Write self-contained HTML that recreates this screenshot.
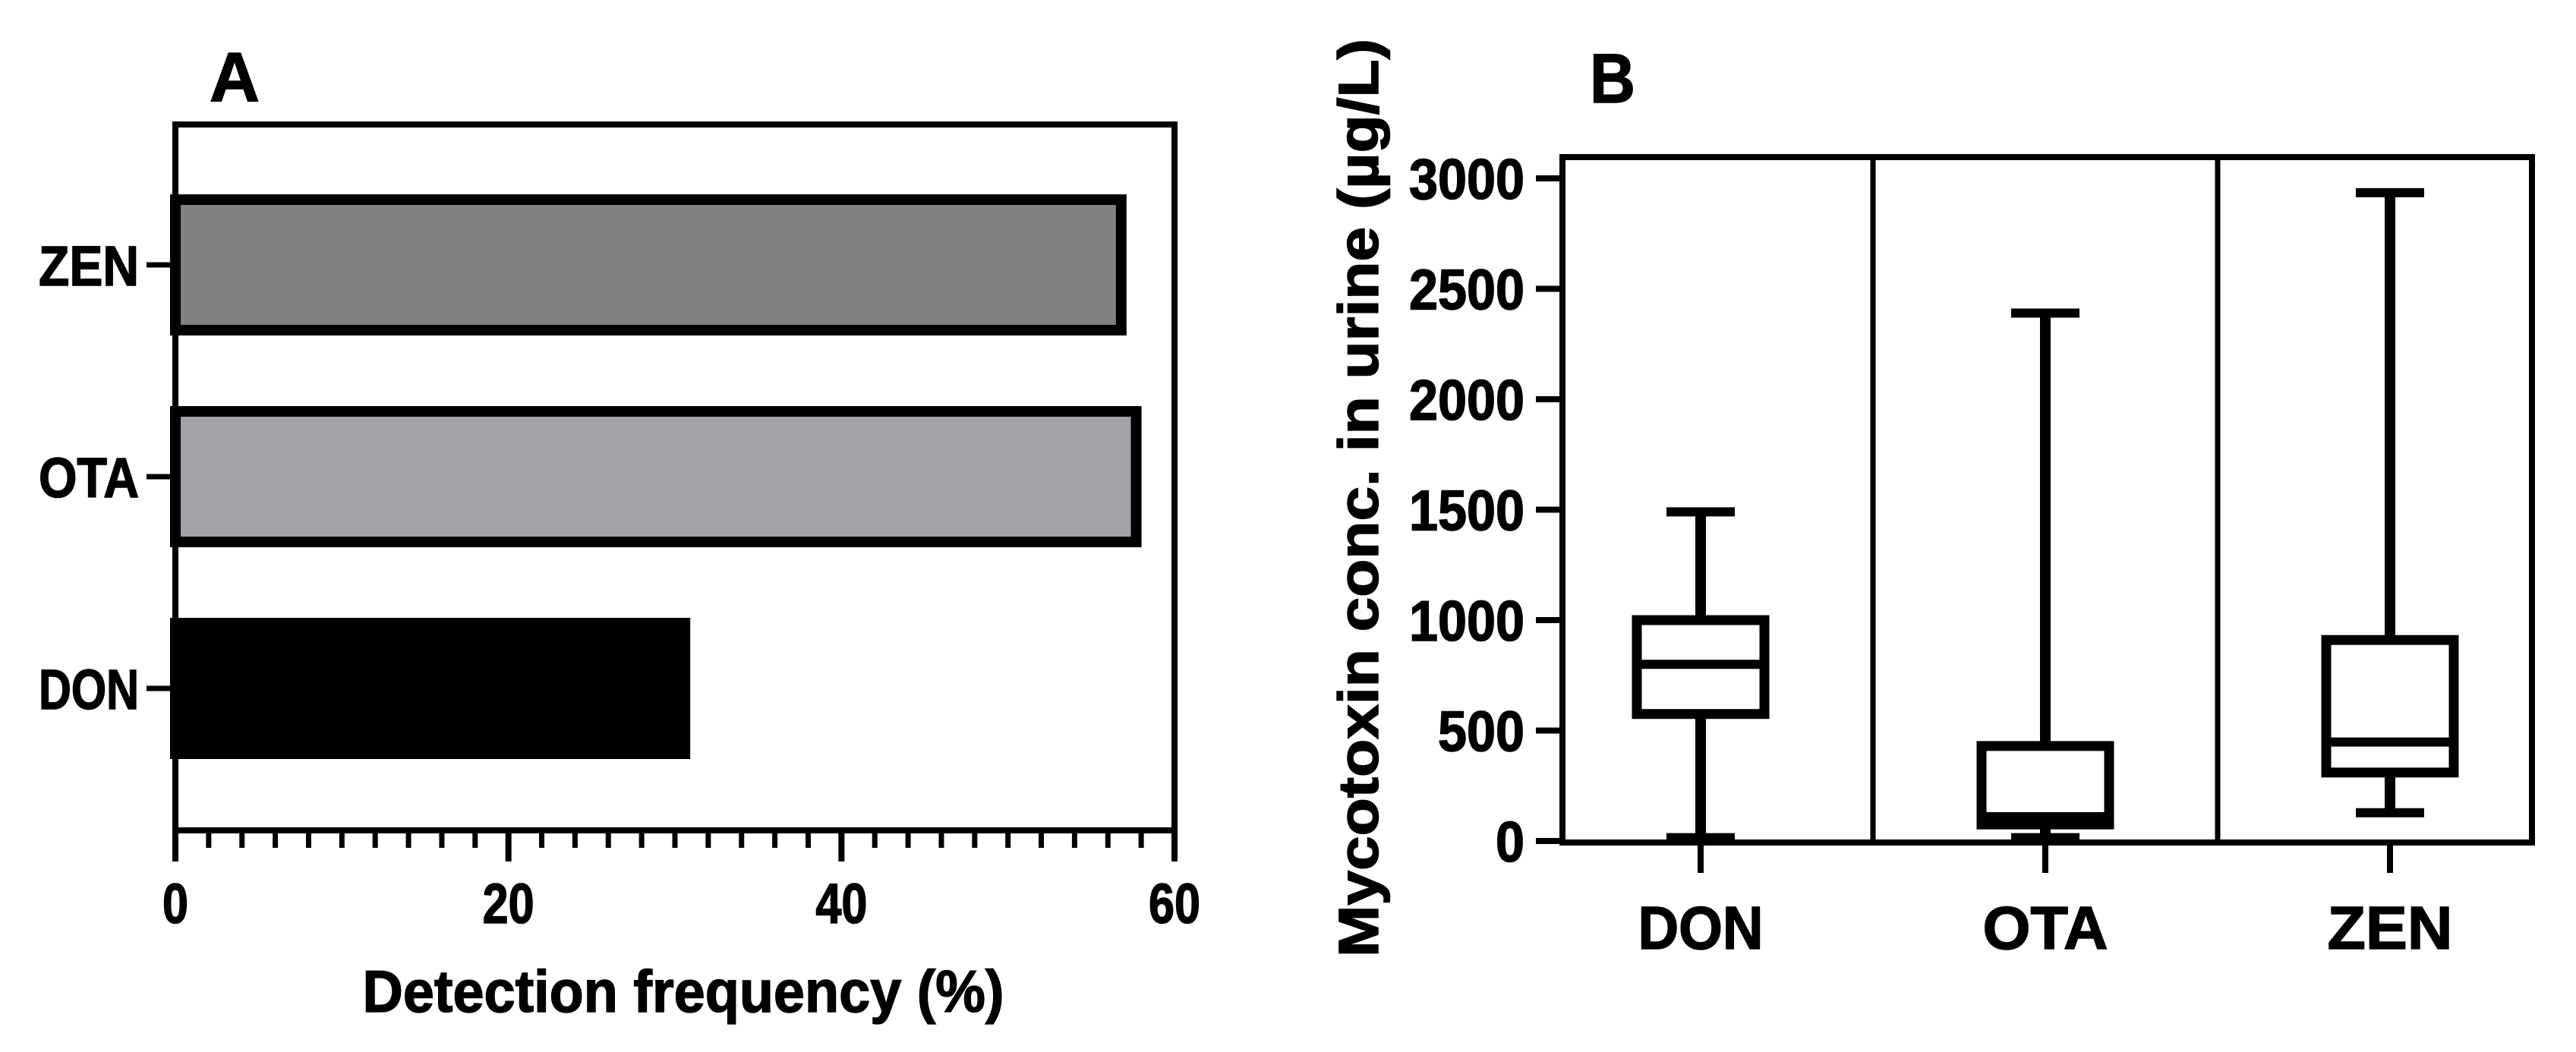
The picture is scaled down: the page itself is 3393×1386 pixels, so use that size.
<!DOCTYPE html>
<html><head><meta charset="utf-8"><style>
html,body{margin:0;padding:0;background:#fff;}
svg{display:block;}
text{font-family:"Liberation Sans",Arial,sans-serif;font-weight:bold;fill:#000;stroke:#000;stroke-width:1.5;}
</style></head><body>
<svg id="fig" width="3393" height="1386" viewBox="0 0 3393 1386" xmlns="http://www.w3.org/2000/svg">
<rect width="3393" height="1386" fill="#fff"/>
<g id="panelA"></g>
<g id="panelB"></g>
</svg>
<script>
// Panel A data
const barCategories = ["ZEN", "OTA", "DON"];
const barValues = [56.8, 57.7, 30.6];
const barFills = ["#818181", "#a3a2a7", "#000000"];
const xTickValues = [0, 20, 40, 60];
const xTickLabels = ["0", "20", "40", "60"];
// Panel B data
const boxCategories = ["DON", "OTA", "ZEN"];
const boxMin = [15, 15, 128];
const boxQ1 = [575, 75, 310];
const boxMedian = [800, 110, 448];
const boxQ3 = [1000, 430, 910];
const boxMax = [1490, 2390, 2935];
const yTickValues = [0, 500, 1000, 1500, 2000, 2500, 3000];
const yTickLabels = ["0", "500", "1000", "1500", "2000", "2500", "3000"];

const NS = "http://www.w3.org/2000/svg";
function mk(parent, tag, attrs, txt) {
  const e = document.createElementNS(NS, tag);
  for (const k in attrs) e.setAttribute(k, attrs[k]);
  if (txt !== undefined) e.textContent = txt;
  parent.appendChild(e);
  return e;
}

// ---------- Panel A ----------
const A = document.getElementById('panelA');
const aL = 231, aR = 1547, aT = 164, aB = 1094;
const ax = v => aL + (v / 60) * (aR - aL);
const ay = i => 349 + i * 279;
let el;
el = mk(A, 'text', {x: 276, y: 133, 'font-size': 92, textLength: 66, lengthAdjust: 'spacingAndGlyphs'}, 'A');


barCategories.forEach((c, i) => {
  const r = mk(A, 'rect', {x: ax(0), y: ay(i) - 86, width: ax(barValues[i]) - ax(0), height: 172, fill: barFills[i], stroke: '#000', 'stroke-width': 14});
  
  
  const t = mk(A, 'line', {x1: 193, x2: aL, y1: ay(i), y2: ay(i), stroke: '#000', 'stroke-width': 7});
  
  
  const lab = mk(A, 'text', {x: 183, y: ay(i) + 27, 'font-size': 74, 'text-anchor': 'end', textLength: c.length * 44, lengthAdjust: 'spacingAndGlyphs'}, c);
  
  
});
el = mk(A, 'rect', {x: aL, y: aT, width: aR - aL, height: aB - aT, fill: 'none', stroke: '#000', 'stroke-width': 8});


for (let v = 0; v <= 60; v += 2) {
  const major = v % 20 === 0;
  const t = mk(A, 'line', {x1: ax(v), x2: ax(v), y1: aB, y2: major ? 1135 : 1117, stroke: '#000', 'stroke-width': major ? 8 : 7});
  
  
}
xTickValues.forEach((v, i) => {
  const s = xTickLabels[i];
  const t = mk(A, 'text', {x: ax(v), y: 1216, 'font-size': 74, 'text-anchor': 'middle', textLength: s.length * 34, lengthAdjust: 'spacingAndGlyphs'}, s);
  
  
});
el = mk(A, 'text', {x: 900, y: 1333, 'font-size': 78, 'text-anchor': 'middle', textLength: 845, lengthAdjust: 'spacingAndGlyphs'}, 'Detection frequency (%)');



// ---------- Panel B ----------
const B = document.getElementById('panelB');
const bL = 2058, bR = 3335, bT = 207, bB = 1110;
const by = v => 1108 - (v / 3000) * 873;
const bx = i => 2240 + i * 454;
el = mk(B, 'text', {x: 2094, y: 135, 'font-size': 92, textLength: 60, lengthAdjust: 'spacingAndGlyphs'}, 'B');


el = mk(B, 'rect', {x: bL, y: bT, width: bR - bL, height: bB - bT, fill: 'none', stroke: '#000', 'stroke-width': 8});


for (let i = 0; i < boxCategories.length - 1; i++) {
  const d = mk(B, 'line', {x1: bx(i + 0.5), x2: bx(i + 0.5), y1: bT, y2: bB, stroke: '#000', 'stroke-width': 7});
  
  
}
yTickValues.forEach((v, i) => {
  const t = mk(B, 'line', {x1: 2023, x2: bL, y1: by(v), y2: by(v), stroke: '#000', 'stroke-width': 8});
  
  
  const s = yTickLabels[i];
  const l = mk(B, 'text', {x: 2008, y: by(v) + 27, 'font-size': 75, 'text-anchor': 'end', textLength: s.length * 38, lengthAdjust: 'spacingAndGlyphs'}, s);
  
  
});
boxCategories.forEach((c, i) => {
  const cx = bx(i);
  const g = mk(B, 'g', {});
  
  
  const w1 = mk(g, 'line', {x1: cx, x2: cx, y1: by(boxQ3[i]), y2: by(boxMax[i]), stroke: '#000', 'stroke-width': 14});
  
  
  const w2 = mk(g, 'line', {x1: cx, x2: cx, y1: by(boxQ1[i]), y2: by(boxMin[i]), stroke: '#000', 'stroke-width': 14});
  
  
  [boxMax[i], boxMin[i]].forEach(v => {
    const cp = mk(g, 'line', {x1: cx - 45, x2: cx + 45, y1: by(v), y2: by(v), stroke: '#000', 'stroke-width': 12});
    
    
  });
  const bx0 = mk(g, 'rect', {x: cx - 84, y: by(boxQ3[i]), width: 168, height: by(boxQ1[i]) - by(boxQ3[i]), fill: '#fff', stroke: '#000', 'stroke-width': 13});
  
  
  const md = mk(g, 'line', {x1: cx - 84, x2: cx + 84, y1: by(boxMedian[i]), y2: by(boxMedian[i]), stroke: '#000', 'stroke-width': 12});
  
  
  const t = mk(B, 'line', {x1: cx, x2: cx, y1: bB, y2: 1150, stroke: '#000', 'stroke-width': 8});
  
  
  const l = mk(B, 'text', {x: cx, y: 1250, 'font-size': 80, 'text-anchor': 'middle', textLength: c.length * 55, lengthAdjust: 'spacingAndGlyphs'}, c);
  
  
});
el = mk(B, 'text', {x: 0, y: 0, 'font-size': 74, 'text-anchor': 'middle', transform: 'translate(1815,656) rotate(-90)', textLength: 1210, lengthAdjust: 'spacingAndGlyphs'}, 'Mycotoxin conc. in urine (\u00b5g/L)');


</script>
</body></html>
